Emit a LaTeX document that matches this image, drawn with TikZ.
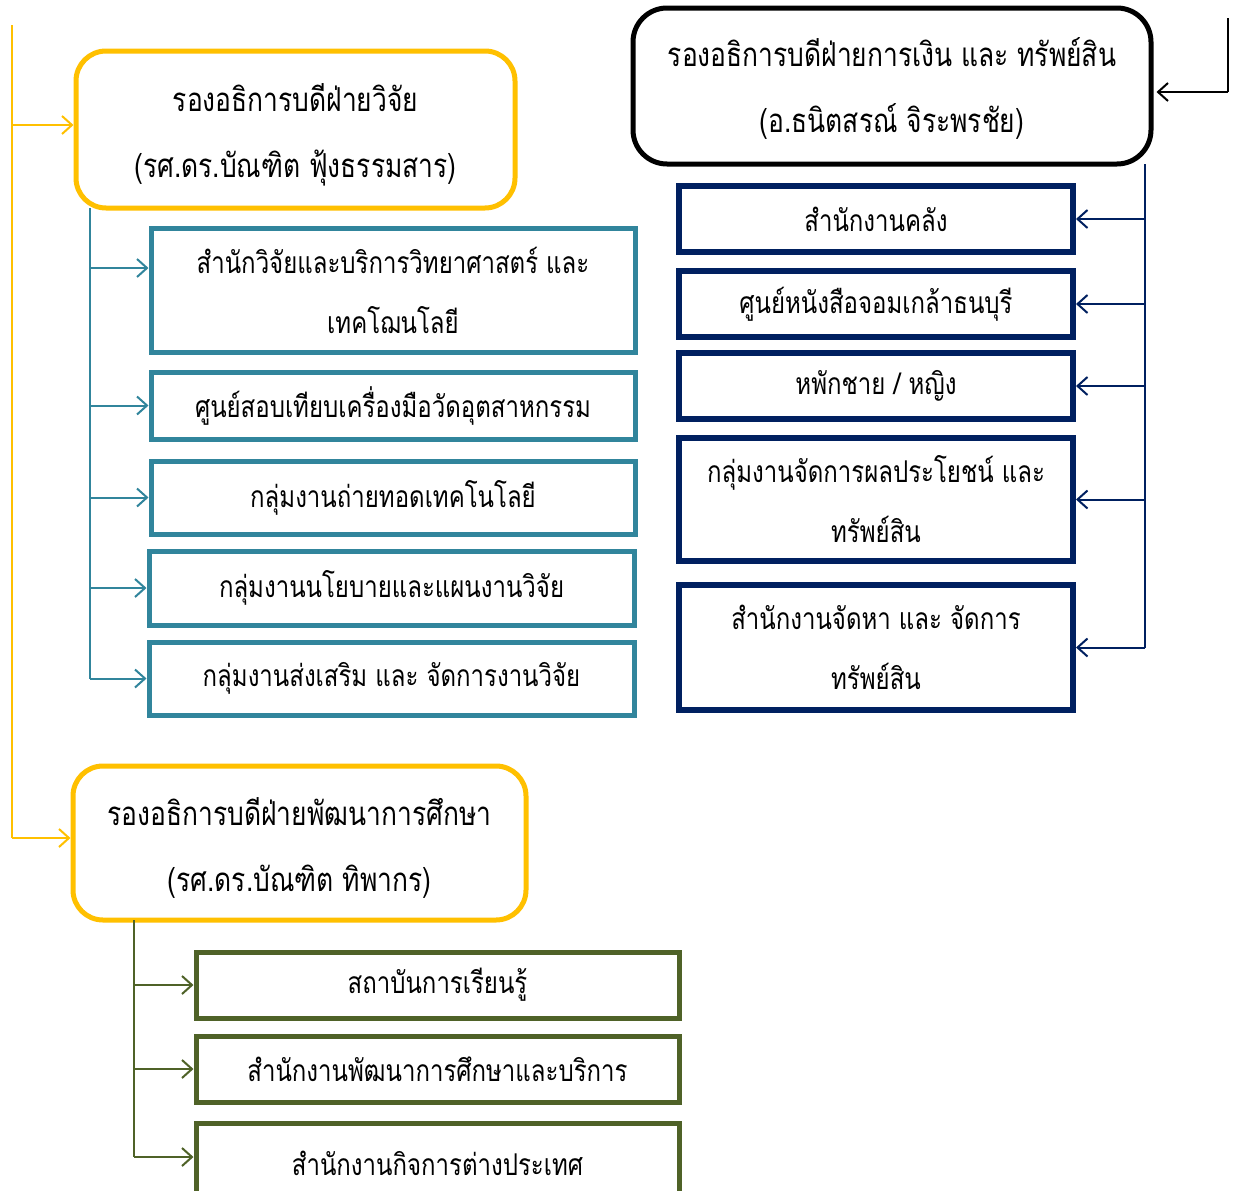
\documentclass[tikz,border=0pt]{standalone}
\usepackage{fontspec}
\usetikzlibrary{arrows.meta}
\newfontfamily\thai[Script=Thai,FakeStretch=0.8]{Loma}
\definecolor{vpyellow}{HTML}{FFC000}
\definecolor{tealc}{HTML}{31859C}
\definecolor{navyc}{HTML}{002060}
\definecolor{greenc}{HTML}{4F6228}
\tikzset{
  txt/.style={align=center,inner sep=0pt,font=\thai\fontsize{30}{60}\selectfont},
  vptext/.style={align=center,inner sep=0pt,font=\thai\fontsize{33}{66}\selectfont,yshift=-5pt},
  vpbox/.style={draw=vpyellow,line width=5pt,rounded corners=30pt},
  finbox/.style={vpbox,draw=black,rounded corners=34pt},
  tealbox/.style={txt,draw=tealc,line width=5pt},
  navybox/.style={txt,draw=navyc,line width=6pt},
  greenbox/.style={txt,draw=greenc,line width=5pt},
  tip/.style={-{Straight Barb[length=10pt,width=18pt,line width=2pt]}},
  yline/.style={draw=vpyellow,line width=2pt},
  tline/.style={draw=tealc,line width=2pt},
  nline/.style={draw=navyc,line width=2pt},
  gline/.style={draw=greenc,line width=2pt},
  kline/.style={draw=black,line width=2pt},
}
\begin{document}
\begin{tikzpicture}[x=1pt,y=-1pt]
\useasboundingbox[fill=white] (0,0) rectangle (1237,1191);
% VP boxes
\node[vpbox,minimum width=439pt,minimum height=157pt,
  label={[vptext]center:รองอธิการบดีฝ่ายวิจัย\\(รศ.ดร.บัณฑิต ฟุ้งธรรมสาร)}] (vp1) at (295.5,129.5) {};
\node[finbox,minimum width=518pt,minimum height=156pt,
  label={[vptext,yshift=2pt]center:รองอธิการบดีฝ่ายการเงิน และ ทรัพย์สิน\\(อ.ธนิตสรณ์ จิระพรชัย)}] (vpf) at (892,86) {};
\node[vpbox,minimum width=453pt,minimum height=154pt,
  label={[vptext]center:รองอธิการบดีฝ่ายพัฒนาการศึกษา\\(รศ.ดร.บัณฑิต ทิพากร)}] (vp2) at (299.5,843) {};
% teal boxes
\node[tealbox,minimum width=484pt,minimum height=124pt] (t1) at (393,290)
  {สำนักวิจัยและบริการวิทยาศาสตร์ และ\\เทคโฌนโลยี};
\node[tealbox,minimum width=484pt,minimum height=67pt] (t2) at (393,405.5)
  {ศูนย์สอบเทียบเครื่องมือวัดอุตสาหกรรม};
\node[tealbox,minimum width=484pt,minimum height=73pt] (t3) at (393,497.5)
  {กลุ่มงานถ่ายทอดเทคโนโลยี};
\node[tealbox,minimum width=485pt,minimum height=74pt] (t4) at (391.5,588)
  {กลุ่มงานนโยบายและแผนงานวิจัย};
\node[tealbox,minimum width=485pt,minimum height=73pt] (t5) at (391.5,678.5)
  {กลุ่มงานส่งเสริม และ จัดการงานวิจัย};
% navy boxes
\node[navybox,minimum width=394pt,minimum height=66pt] (n1) at (876,219) {สำนักงานคลัง};
\node[navybox,minimum width=394pt,minimum height=66pt] (n2) at (876,304) {ศูนย์หนังสือจอมเกล้าธนบุรี};
\node[navybox,minimum width=394pt,minimum height=66pt] (n3) at (876,386) {หพักชาย / หญิง};
\node[navybox,minimum width=394pt,minimum height=123pt] (n4) at (876,499.5)
  {กลุ่มงานจัดการผลประโยชน์ และ\\ทรัพย์สิน};
\node[navybox,minimum width=394pt,minimum height=125pt] (n5) at (876,647.5)
  {สำนักงานจัดหา และ จัดการ\\ทรัพย์สิน};
% green boxes
\node[greenbox,minimum width=483pt,minimum height=66pt] (g1) at (437.5,985) {สถาบันการเรียนรู้};
\node[greenbox,minimum width=483pt,minimum height=66pt] (g2) at (437.5,1069) {สำนักงานพัฒนาการศึกษาและบริการ};
\node[greenbox,minimum width=483pt,minimum height=80pt] (g3) at (437.5,1163) {สำนักงานกิจการต่างประเทศ};
% anchor points off-centre
\coordinate (vp1a) at ([yshift=4.5pt]vp1.west);
\coordinate (vp2a) at ([yshift=5pt]vp2.west);
\coordinate (t1a) at ([yshift=22pt]t1.west);
\coordinate (vfa) at ([yshift=-6pt,xshift=3pt]vpf.east);
\coordinate (g3a) at ([yshift=6pt]g3.west);
% yellow trunk
\coordinate (ytop) at (12,25);
\draw[yline] (ytop) -- (ytop |- vp2a);
\draw[yline,tip] (ytop |- vp1a) -- (vp1a);
\draw[yline,tip] (ytop |- vp2a) -- (vp2a);
% teal trunk
\coordinate (ttop) at (90,208);
\draw[tline] (ttop) -- (ttop |- t5.west);
\draw[tline,tip] (ttop |- t1a) -- (t1a);
\foreach \b in {t2,t3,t4,t5}{\draw[tline,tip] (ttop |- \b.west) -- (\b.west);}
% black input
\coordinate (ktop) at (1228,18);
\draw[kline] (ktop) -- (ktop |- vfa);
\draw[kline,tip] (ktop |- vfa) -- (vfa);
% navy trunk
\coordinate (ntop) at (1145,164);
\draw[nline] (ntop) -- (ntop |- n5.east);
\foreach \b in {n1,n2,n3,n4,n5}{\draw[nline,tip] (ntop |- \b.east) -- (\b.east);}
% green trunk
\coordinate (gtop) at (134,920);
\draw[gline] (gtop) -- (gtop |- g3a);
\foreach \b in {g1,g2}{\draw[gline,tip] (gtop |- \b.west) -- (\b.west);}
\draw[gline,tip] (gtop |- g3a) -- (g3a);
\end{tikzpicture}
\end{document}
